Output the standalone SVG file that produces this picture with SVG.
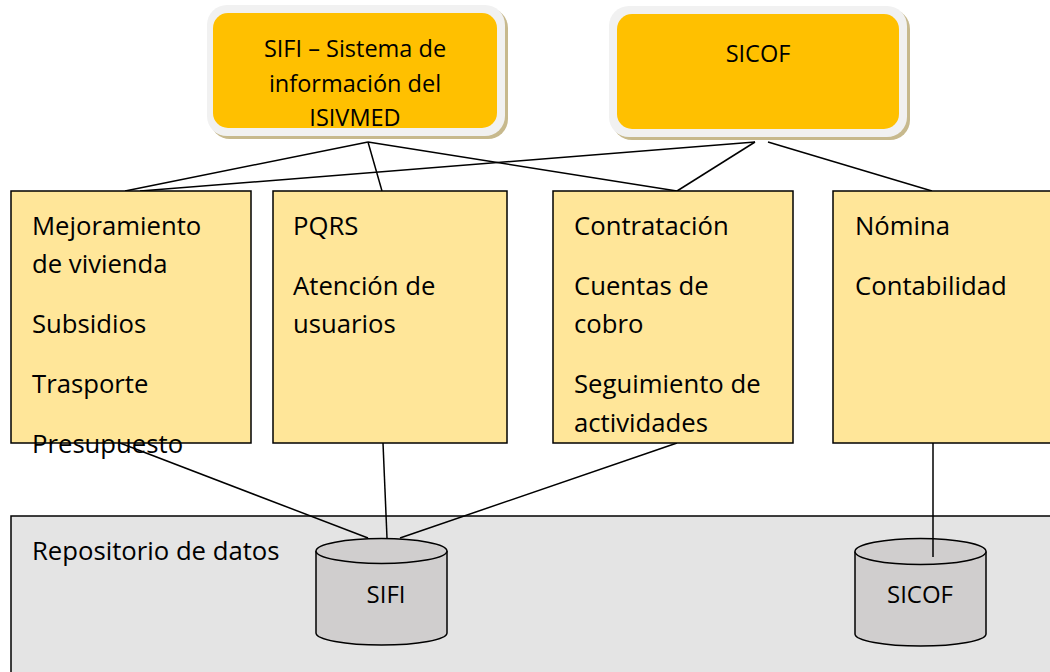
<svg xmlns="http://www.w3.org/2000/svg" width="1050" height="672" viewBox="0 0 1050 672">
<style>
text{font-family:"Open Sans","Liberation Sans",sans-serif;font-size:25.7px;fill:#000}
.c{text-anchor:middle}
.t{font-size:23.5px}
.s{font-size:24px}
.shadow{fill:#c7b98d}
.rim{fill:#f1f1f1}
.top{fill:#ffc000}
.mod{fill:#ffe699;stroke:#000;stroke-width:1.5}
.repo{fill:#e4e4e4;stroke:#000;stroke-width:1.5}
.cyl{fill:#d0cece;stroke:#000;stroke-width:1.5}
.ln{stroke:#000;stroke-width:1.5;fill:none}
</style>
<rect width="1050" height="672" fill="#fff"/>
<g id="repositorio">
<rect class="repo" x="11" y="516" width="1050" height="170"/>
<text x="32" y="560">Repositorio de datos</text>
</g>
<g id="connectors">
<line class="ln" x1="368" y1="142" x2="125" y2="191"/>
<line class="ln" x1="368" y1="142" x2="382" y2="191"/>
<line class="ln" x1="368" y1="142" x2="677" y2="191"/>
<line class="ln" x1="755" y1="142" x2="140" y2="191"/>
<line class="ln" x1="755" y1="142" x2="677" y2="191"/>
<line class="ln" x1="768" y1="142" x2="932" y2="191"/>
<line class="ln" x1="120" y1="443" x2="368" y2="538"/>
<line class="ln" x1="383" y1="443" x2="387" y2="538"/>
<line class="ln" x1="677" y1="443" x2="400" y2="538"/>
</g>
<g id="sifi-sistema">
<rect class="shadow" x="210" y="8" width="298" height="131" rx="20"/>
<rect class="rim" x="207" y="5" width="298" height="131" rx="20"/>
<rect class="top" x="213" y="13" width="284" height="115" rx="15"/>
<text class="c t" x="355" y="57">SIFI – Sistema de</text>
<text class="c t" x="355" y="92">información del</text>
<text class="c t" x="355" y="126">ISIVMED</text>
</g>
<g id="sicof-sistema">
<rect class="shadow" x="612" y="9" width="298" height="131" rx="20"/>
<rect class="rim" x="609" y="6" width="298" height="131" rx="20"/>
<rect class="top" x="617" y="14" width="282" height="115" rx="15"/>
<text class="c t" x="758" y="62">SICOF</text>
</g>
<g id="mod-vivienda">
<rect class="mod" x="11" y="191" width="240" height="252"/>
<text x="32" y="235">Mejoramiento</text>
<text x="32" y="273">de vivienda</text>
<text x="32" y="333">Subsidios</text>
<text x="32" y="393">Trasporte</text>
<text x="32" y="453">Presupuesto</text>
</g>
<g id="mod-pqrs">
<rect class="mod" x="273" y="191" width="234" height="252"/>
<text x="293" y="235">PQRS</text>
<text x="293" y="295">Atención de</text>
<text x="293" y="333">usuarios</text>
</g>
<g id="mod-contratacion">
<rect class="mod" x="553" y="191" width="240" height="252"/>
<text x="574" y="235">Contratación</text>
<text x="574" y="295">Cuentas de</text>
<text x="574" y="333">cobro</text>
<text x="574" y="393">Seguimiento de</text>
<text x="574" y="432">actividades</text>
</g>
<g id="mod-nomina">
<rect class="mod" x="833" y="191" width="240" height="252"/>
<text x="855" y="235">Nómina</text>
<text x="855" y="295">Contabilidad</text>
</g>
<g id="db-sifi">
<path class="cyl" d="M316,551 L316,633 A65.5,12 0 0 0 447,633 L447,551"/>
<ellipse class="cyl" cx="381.5" cy="551" rx="65.5" ry="12.5"/>
<text class="c s" x="386" y="603">SIFI</text>
</g>
<g id="db-sicof">
<path class="cyl" d="M855,551.5 L855,634 A65.5,12 0 0 0 986,634 L986,551.5"/>
<ellipse class="cyl" cx="920.5" cy="551.5" rx="65.5" ry="13"/>
<text class="c s" x="920" y="603">SICOF</text>
</g>
<line class="ln" x1="933" y1="443" x2="933" y2="557"/>
</svg>
